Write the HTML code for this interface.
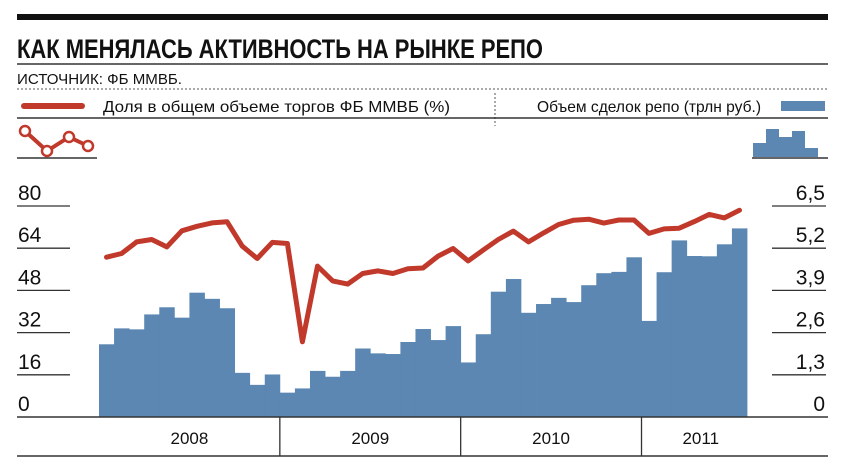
<!DOCTYPE html>
<html><head><meta charset="utf-8"><style>
html,body{margin:0;padding:0;background:#fff;}
svg{display:block;font-family:"Liberation Sans Narrow","Liberation Sans",sans-serif;}
</style></head><body>
<svg id="chart" width="844" height="474" viewBox="0 0 844 474">
<rect x="17" y="14" width="811" height="6" fill="#111"/>
<text x="17" y="58" font-size="27" font-weight="bold" fill="#111" textLength="526" lengthAdjust="spacingAndGlyphs">КАК МЕНЯЛАСЬ АКТИВНОСТЬ НА РЫНКЕ РЕПО</text>
<line x1="17" y1="64" x2="828" y2="64" stroke="#333" stroke-width="1.5"/>
<text x="17" y="84" font-size="15" fill="#111" textLength="165" lengthAdjust="spacingAndGlyphs">ИСТОЧНИК: ФБ ММВБ.</text>
<line x1="17" y1="89" x2="828" y2="89" stroke="#555" stroke-width="1" stroke-dasharray="2,2"/>
<g>
<line x1="24" y1="106" x2="82" y2="106" stroke="#c0392b" stroke-width="6" stroke-linecap="round"/>
<text x="103" y="112" font-size="16" fill="#111" textLength="347" lengthAdjust="spacingAndGlyphs">Доля в общем объеме торгов ФБ ММВБ (%)</text>
<line x1="495" y1="93" x2="495" y2="126" stroke="#555" stroke-width="1" stroke-dasharray="2,2"/>
<text x="537" y="112" font-size="16" fill="#111" textLength="224" lengthAdjust="spacingAndGlyphs">Объем сделок репо (трлн руб.)</text>
<rect x="781" y="101" width="44" height="10" fill="#5b87b2"/>
</g>
<line x1="17" y1="118" x2="828" y2="118" stroke="#333" stroke-width="1.5"/>
<g>
<polyline points="25,131 47,151 69,137 88,146" fill="none" stroke="#c0392b" stroke-width="4"/>
<circle cx="25" cy="131" r="5" fill="#fff" stroke="#c0392b" stroke-width="2.5"/>
<circle cx="47" cy="151" r="5" fill="#fff" stroke="#c0392b" stroke-width="2.5"/>
<circle cx="69" cy="137" r="5" fill="#fff" stroke="#c0392b" stroke-width="2.5"/>
<circle cx="88" cy="146" r="5" fill="#fff" stroke="#c0392b" stroke-width="2.5"/>
<line x1="17" y1="158" x2="97" y2="158" stroke="#333" stroke-width="1.5"/>
</g>
<g fill="#5b87b2">
<rect x="753" y="143" width="13" height="14"/><rect x="766" y="129" width="13" height="28"/>
<rect x="779" y="137" width="13" height="20"/><rect x="792" y="131" width="13" height="26"/>
<rect x="805" y="148" width="13" height="9"/>
<line x1="752" y1="158" x2="828" y2="158" stroke="#333" stroke-width="1.5"/>
</g>
<g id="grid"></g>
<g id="bars"></g>
<g id="lineg"></g>
<g id="xaxis"></g>
</svg>
<script>
const leftTicks = ["0","16","32","48","64","80"];
const leftTickValues = [0,16,32,48,64,80];
const rightTicks = ["0","1,3","2,6","3,9","5,2","6,5"];
const years = ["2008","2009","2010","2011"];
const volume = [2.24,2.73,2.70,3.16,3.38,3.06,3.83,3.64,3.35,1.36,0.99,1.31,0.75,0.88,1.42,1.24,1.42,2.11,1.96,1.94,2.31,2.71,2.37,2.80,1.68,2.55,3.86,4.25,3.21,3.48,3.67,3.54,4.06,4.43,4.47,4.92,2.96,4.46,5.44,4.96,4.95,5.32,5.81];
const share = [60.6,62,66.4,67.3,64.5,70.6,72.3,73.6,74,64.8,60.1,66.2,65.8,28.5,57.2,51.6,50.4,54.4,55.4,54.4,56.2,56.5,61,63.9,59.2,63.3,67.3,70.5,66.4,69.8,73,74.6,75,73.5,74.7,74.7,69.6,71.3,71.6,74.1,76.8,75.5,78.4];
const NS="http://www.w3.org/2000/svg";
const base=417, top_=206, x0=99, x1=747;
const yL=v=>base-(v/80)*(base-top_);
const yR=v=>base-(v/6.5)*(base-top_);
const bw=(x1-x0)/volume.length;
const xB=i=>x0+i*bw;
function mk(tag,attrs,parent){const e=document.createElementNS(NS,tag);for(const k in attrs)e.setAttribute(k,attrs[k]);parent.appendChild(e);return e;}
const grid=document.getElementById('grid');
leftTicks.forEach((t,i)=>{
  const y=yL(leftTickValues[i]);
  if(i>0){
    const l=mk('line',{x1:17,x2:70,y1:y,y2:y,stroke:'#333','stroke-width':1.3},grid);
    
    
    const r=mk('line',{x1:772,x2:826,y1:y,y2:y,stroke:'#333','stroke-width':1.3},grid);
    
    
  }
  const tl=mk('text',{x:18,y:y-6,'font-size':21,fill:'#111'},grid);
  tl.textContent=t;
  
  
  const tr=mk('text',{x:825,y:y-6,'font-size':21,fill:'#111','text-anchor':'end'},grid);
  tr.textContent=rightTicks[i];
  
  
});
const bars=document.getElementById('bars');
volume.forEach((v,i)=>{
  const y=yR(v);
  const r=mk('rect',{x:xB(i),y:y,width:bw+0.4,height:base-y,fill:'#5b87b2'},bars);
  
  
});
const pts=share.map((v,i)=>(xB(i)+bw/2).toFixed(1)+','+yL(v).toFixed(1)).join(' ');
const pl=mk('polyline',{points:pts,fill:'none',stroke:'#c0392b','stroke-width':5,'stroke-linejoin':'round','stroke-linecap':'round'},document.getElementById('lineg'));


const xa=document.getElementById('xaxis');
const ax=mk('line',{x1:17,x2:828,y1:base,y2:base,stroke:'#333','stroke-width':1.5},xa);


const bl=mk('line',{x1:17,x2:828,y1:456,y2:456,stroke:'#333','stroke-width':1.5},xa);


const seps=[277,457,638];
const yearStarts=[0,12,24,36];
years.forEach((yr,i)=>{
  const s=xB(yearStarts[i]);
  const e=i<3?xB(yearStarts[i+1]):760;
  if(i<3){
    const l=mk('line',{x1:xB(yearStarts[i+1]),x2:xB(yearStarts[i+1]),y1:base,y2:456,stroke:'#333','stroke-width':1.3},xa);
    
    
  }
  const t=mk('text',{x:(s+e)/2,y:444,'font-size':17,fill:'#111','text-anchor':'middle'},xa);
  t.textContent=yr;
  
  
});
</script>
</body></html>
